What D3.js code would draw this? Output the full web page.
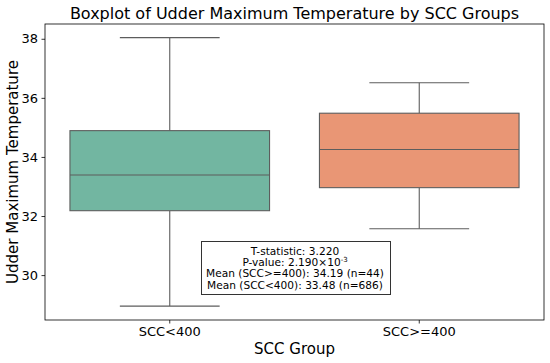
<!DOCTYPE html>
<html><head><meta charset="utf-8">
<script src="https://cdn.jsdelivr.net/npm/d3@7"></script>
<style>body{margin:0;background:#fff}svg{font-family:"DejaVu Sans",sans-serif}</style>
</head><body><svg id="c" width="550" height="363"></svg>
<script>
const categories = ["SCC<400", "SCC>=400"];
const whiskerLow = [28.95, 31.57];
const q1 = [32.18, 32.96];
const median = [33.39, 34.25];
const q3 = [34.89, 35.48];
const whiskerHigh = [38.04, 36.51];
const colors = ["#72b6a1", "#e99675"];
const yTicks = [30, 32, 34, 36, 38];
const statLines = ["T-statistic: 3.220", "P-value: 2.190×10", "Mean (SCC>=400): 34.19 (n=44)", "Mean (SCC<400): 33.48 (n=686)"];

const svg = d3.select("#c");
const L = 45, R = 544, T = 24, B = 320;
const x = d3.scaleBand().domain(categories).range([L, R]).padding(0);
const y = d3.scaleLinear().domain([28.48, 38.5]).range([B, T]);
const line = "#5d5d5d";

// axes
const yAxis = svg.append("g").attr("transform", `translate(${L},0)`).call(d3.axisLeft(y).tickValues(yTicks).tickSize(3.5).tickPadding(3.5));
const xAxis = svg.append("g").attr("transform", `translate(0,${B})`).call(d3.axisBottom(x).tickSize(3.5).tickPadding(3.5));
[yAxis, xAxis].forEach(a => {
  a.select(".domain").remove();
  a.selectAll("line").attr("stroke", "#000").attr("stroke-width", 0.8);
  a.selectAll("text").attr("font-size", 13).attr("fill", "#000").attr("font-family", "DejaVu Sans");
});

const g = svg.append("g");
categories.forEach((c, i) => {
  const cx = x(c) + x.bandwidth() / 2;
  const bw = x.bandwidth() * 0.8;
  const cw = bw / 2;
  g.append("line").attr("x1", cx).attr("x2", cx).attr("y1", y(whiskerHigh[i])).attr("y2", y(q3[i])).attr("stroke", line).attr("stroke-width", 1.1);
  g.append("line").attr("x1", cx).attr("x2", cx).attr("y1", y(q1[i])).attr("y2", y(whiskerLow[i])).attr("stroke", line).attr("stroke-width", 1.1);
  g.append("line").attr("x1", cx - cw / 2).attr("x2", cx + cw / 2).attr("y1", y(whiskerHigh[i])).attr("y2", y(whiskerHigh[i])).attr("stroke", line).attr("stroke-width", 1.1);
  g.append("line").attr("x1", cx - cw / 2).attr("x2", cx + cw / 2).attr("y1", y(whiskerLow[i])).attr("y2", y(whiskerLow[i])).attr("stroke", line).attr("stroke-width", 1.1);
  g.append("rect").attr("x", cx - bw / 2).attr("width", bw).attr("y", y(q3[i])).attr("height", y(q1[i]) - y(q3[i])).attr("fill", colors[i]).attr("stroke", line).attr("stroke-width", 1.1);
  g.append("line").attr("x1", cx - bw / 2).attr("x2", cx + bw / 2).attr("y1", y(median[i])).attr("y2", y(median[i])).attr("stroke", line).attr("stroke-width", 1.1);
});

// frame
svg.append("rect").attr("x", L).attr("y", T).attr("width", R - L).attr("height", B - T).attr("fill", "none").attr("stroke", "#000").attr("stroke-width", 0.8);

// stats box
const bx = 201.5, by = 241.5, bwid = 189, bh = 53;
svg.append("rect").attr("x", bx).attr("y", by).attr("width", bwid).attr("height", bh).attr("fill", "#fff").attr("stroke", "#333").attr("stroke-width", 1);
const st = svg.append("text").attr("text-anchor", "middle").attr("font-size", 10.6).attr("fill", "#000");
statLines.forEach((s, i) => {
  const t = st.append("tspan").attr("x", 295).attr("y", by + 13.2 + i * 11.35);
  if (i === 1) { t.text(s); t.append("tspan").attr("font-size", 7).attr("dy", -4).text("-3"); }
  else t.text(s);
});

// labels
svg.append("text").attr("x", (L + R) / 2).attr("y", 19).attr("text-anchor", "middle").attr("font-size", 16).text("Boxplot of Udder Maximum Temperature by SCC Groups");
svg.append("text").attr("x", (L + R) / 2).attr("y", 354).attr("text-anchor", "middle").attr("font-size", 15).text("SCC Group");
svg.append("text").attr("transform", `translate(18,${(T + B) / 2}) rotate(-90)`).attr("text-anchor", "middle").attr("font-size", 15).text("Udder Maximum Temperature");
</script></body></html>
